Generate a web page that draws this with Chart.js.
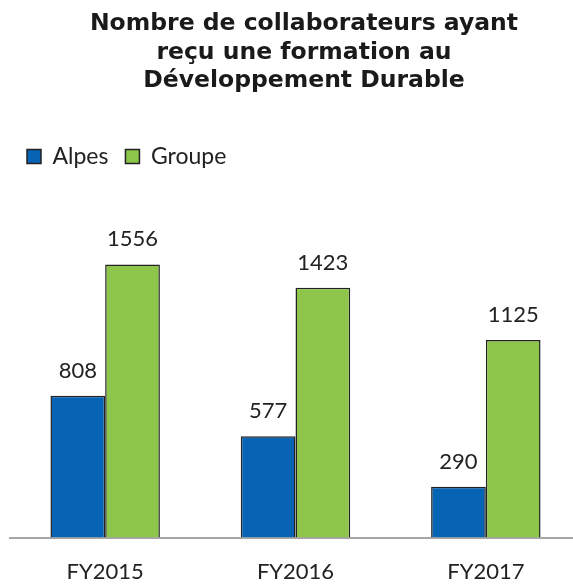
<!DOCTYPE html>
<html>
<head>
<meta charset="utf-8">
<script src="https://cdn.jsdelivr.net/npm/chart.js@4"></script>
<style>
  html, body { margin: 0; padding: 0; background: #fff; overflow: hidden; }
  #wrap { width: 582px; height: 584px; }
</style>
</head>
<body>
<div id="wrap"><canvas id="chart"></canvas></div>
<script>
const categories = ['FY2015', 'FY2016', 'FY2017'];
const alpes = [808, 577, 290];
const groupe = [1556, 1423, 1125];
const titleLines = ['Nombre de collaborateurs ayant', 'reçu une formation au', 'Développement Durable'];

const textFont = "Lato, 'Open Sans', sans-serif";

// title drawn by hand so it can sit off-centre like the original
const titlePlugin = {
    id: 'titleText',
    afterDraw(chart) {
        const ctx = chart.ctx;
        ctx.save();
        ctx.font = "bold 23.5px 'DejaVu Sans', Verdana, sans-serif";
        ctx.fillStyle = '#1a1a1a';
        ctx.textAlign = 'center';
        ctx.textBaseline = 'middle';
        titleLines.forEach((t, i) => ctx.fillText(t, 304, 24 + i * 28.5));
        ctx.restore();
    }
};

// numbers above each bar
const valuePlugin = {
    id: 'valueLabels',
    afterDatasetsDraw(chart) {
        const ctx = chart.ctx;
        ctx.save();
        ctx.font = '22px ' + textFont;
        ctx.fillStyle = '#222';
        ctx.textAlign = 'center';
        ctx.textBaseline = 'bottom';
        chart.data.datasets.forEach((ds, i) => {
            chart.getDatasetMeta(i).data.forEach((bar, j) => {
                ctx.fillText(ds.data[j], bar.x, bar.y - 14);
            });
        });
        ctx.restore();
    }
};

new Chart(document.getElementById('chart'), {
    type: 'bar',
    data: {
        labels: categories,
        datasets: [
            { label: 'Alpes', data: alpes, backgroundColor: '#0763b3', borderColor: '#222', borderWidth: 1.5 },
            { label: 'Groupe', data: groupe, backgroundColor: '#8dc64a', borderColor: '#222', borderWidth: 1.5 }
        ]
    },
    options: {
        responsive: true,
        maintainAspectRatio: false,
        animation: false,
        layout: { padding: { left: 10, right: 1, top: 128, bottom: -22 } },
        datasets: { bar: { categoryPercentage: 0.575, barPercentage: 1 } },
        plugins: {
            legend: {
                position: 'top',
                align: 'start',
                labels: {
                    boxWidth: 14,
                    boxHeight: 14,
                    padding: 17,
                    color: '#222',
                    font: { size: 23, family: textFont }
                }
            },
            tooltip: { enabled: false }
        },
        scales: {
            x: {
                grid: { display: false, drawTicks: false },
                border: { color: '#a6a6a6', width: 2 },
                ticks: { color: '#222', padding: 21, font: { size: 22, family: textFont } }
            },
            y: { display: false, min: 0, max: 2048 }
        }
    },
    plugins: [titlePlugin, valuePlugin]
});
</script>
</body>
</html>
